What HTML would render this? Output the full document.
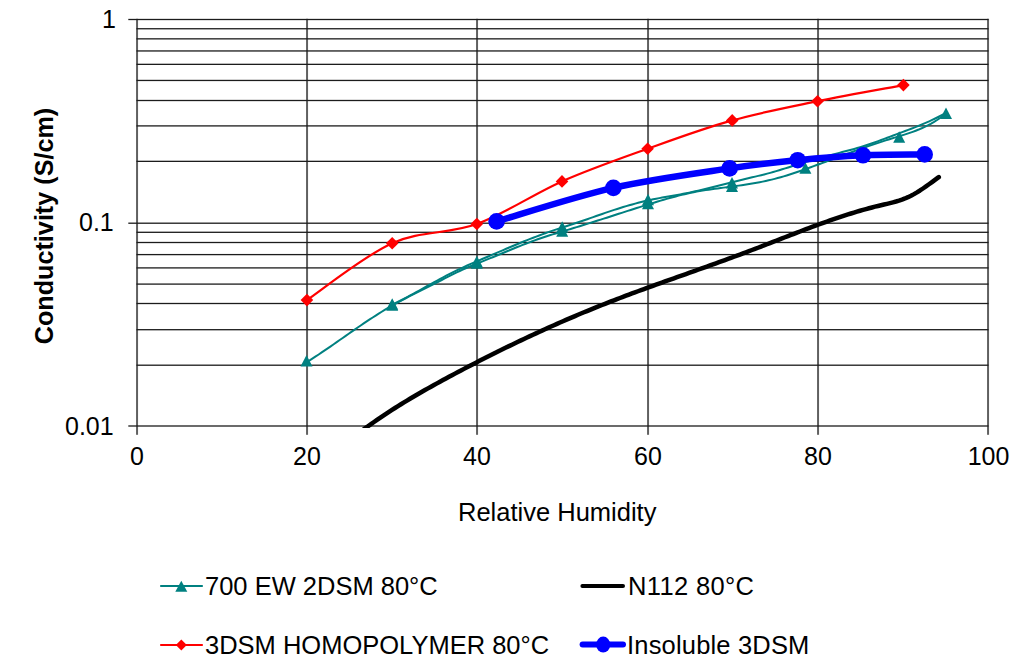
<!DOCTYPE html>
<html><head><meta charset="utf-8"><style>
html,body{margin:0;padding:0;background:#fff;}
body{width:1024px;height:670px;position:relative;overflow:hidden;font-family:"Liberation Sans",sans-serif;color:#000;}
.t{position:absolute;font-size:25px;line-height:1;white-space:nowrap;}
.c{width:100px;text-align:center;}
svg{position:absolute;left:0;top:0;}
</style></head><body>
<svg width="1024" height="670" viewBox="0 0 1024 670">
<defs><clipPath id="pa"><rect x="137" y="0" width="852" height="428"/></clipPath></defs>
<g>
<rect x="136.05" y="18.8" width="2" height="416" fill="#606060"/>
<rect x="306.05" y="18.8" width="2" height="416" fill="#606060"/>
<rect x="476.05" y="18.8" width="2" height="416" fill="#606060"/>
<rect x="647.05" y="18.8" width="2" height="416" fill="#606060"/>
<rect x="817.05" y="18.8" width="2" height="416" fill="#606060"/>
<rect x="987.05" y="18.8" width="2" height="416" fill="#606060"/>
<rect x="128.3" y="18.85" width="860.2" height="1.3" fill="#1c1c1c"/>
<rect x="136.5" y="28.10" width="852.0" height="1.3" fill="#1c1c1c"/>
<rect x="136.5" y="38.20" width="852.0" height="1.3" fill="#1c1c1c"/>
<rect x="136.5" y="50.30" width="852.0" height="1.3" fill="#1c1c1c"/>
<rect x="136.5" y="63.70" width="852.0" height="1.3" fill="#1c1c1c"/>
<rect x="136.5" y="79.80" width="852.0" height="1.3" fill="#1c1c1c"/>
<rect x="136.5" y="99.85" width="852.0" height="1.3" fill="#1c1c1c"/>
<rect x="136.5" y="125.25" width="852.0" height="1.3" fill="#1c1c1c"/>
<rect x="136.5" y="160.70" width="852.0" height="1.3" fill="#1c1c1c"/>
<rect x="128.3" y="222.55" width="860.2" height="1.3" fill="#1c1c1c"/>
<rect x="136.5" y="231.65" width="852.0" height="1.3" fill="#1c1c1c"/>
<rect x="136.5" y="241.85" width="852.0" height="1.3" fill="#1c1c1c"/>
<rect x="136.5" y="253.95" width="852.0" height="1.3" fill="#1c1c1c"/>
<rect x="136.5" y="267.25" width="852.0" height="1.3" fill="#1c1c1c"/>
<rect x="136.5" y="283.45" width="852.0" height="1.3" fill="#1c1c1c"/>
<rect x="136.5" y="302.85" width="852.0" height="1.3" fill="#1c1c1c"/>
<rect x="136.5" y="329.05" width="852.0" height="1.3" fill="#1c1c1c"/>
<rect x="136.5" y="364.55" width="852.0" height="1.3" fill="#1c1c1c"/>
<rect x="128.3" y="425.35" width="860.2" height="1.3" fill="#1c1c1c"/>
</g>
<g clip-path="url(#pa)">
<path d="M362.0,430.65 L365.0,428.43 L368.0,426.25 L371.0,424.10 L374.0,421.98 L377.0,419.90 L380.0,417.84 L383.0,415.82 L386.0,413.82 L389.0,411.85 L392.0,409.91 L395.0,407.99 L398.0,406.10 L401.0,404.24 L404.0,402.39 L407.0,400.57 L410.0,398.77 L413.0,396.99 L416.0,395.23 L419.0,393.48 L422.0,391.76 L425.0,390.05 L428.0,388.35 L431.0,386.67 L434.0,385.00 L437.0,383.35 L440.0,381.71 L443.0,380.07 L446.0,378.45 L449.0,376.84 L452.0,375.23 L455.0,373.63 L458.0,372.04 L461.0,370.45 L464.0,368.87 L467.0,367.30 L470.0,365.74 L473.0,364.19 L476.0,362.64 L479.0,361.10 L482.0,359.57 L485.0,358.04 L488.0,356.53 L491.0,355.02 L494.0,353.51 L497.0,352.02 L500.0,350.54 L503.0,349.06 L506.0,347.59 L509.0,346.13 L512.0,344.67 L515.0,343.23 L518.0,341.79 L521.0,340.36 L524.0,338.94 L527.0,337.53 L530.0,336.12 L533.0,334.73 L536.0,333.34 L539.0,331.96 L542.0,330.59 L545.0,329.22 L548.0,327.87 L551.0,326.52 L554.0,325.19 L557.0,323.86 L560.0,322.54 L563.0,321.23 L566.0,319.92 L569.0,318.63 L572.0,317.35 L575.0,316.07 L578.0,314.80 L581.0,313.54 L584.0,312.29 L587.0,311.05 L590.0,309.82 L593.0,308.60 L596.0,307.39 L599.0,306.18 L602.0,304.99 L605.0,303.80 L608.0,302.62 L611.0,301.46 L614.0,300.29 L617.0,299.14 L620.0,298.00 L623.0,296.86 L626.0,295.72 L629.0,294.60 L632.0,293.48 L635.0,292.37 L638.0,291.26 L641.0,290.15 L644.0,289.06 L647.0,287.96 L650.0,286.87 L653.0,285.79 L656.0,284.70 L659.0,283.63 L662.0,282.55 L665.0,281.48 L668.0,280.40 L671.0,279.34 L674.0,278.27 L677.0,277.20 L680.0,276.14 L683.0,275.07 L686.0,274.01 L689.0,272.94 L692.0,271.88 L695.0,270.81 L698.0,269.75 L701.0,268.68 L704.0,267.61 L707.0,266.54 L710.0,265.46 L713.0,264.39 L716.0,263.31 L719.0,262.23 L722.0,261.14 L725.0,260.05 L728.0,258.96 L731.0,257.86 L734.0,256.76 L737.0,255.65 L740.0,254.54 L743.0,253.42 L746.0,252.29 L749.0,251.16 L752.0,250.02 L755.0,248.88 L758.0,247.73 L761.0,246.58 L764.0,245.42 L767.0,244.26 L770.0,243.09 L773.0,241.92 L776.0,240.76 L779.0,239.59 L782.0,238.42 L785.0,237.26 L788.0,236.09 L791.0,234.93 L794.0,233.78 L797.0,232.62 L800.0,231.48 L803.0,230.34 L806.0,229.20 L809.0,228.07 L812.0,226.95 L815.0,225.84 L818.0,224.74 L821.0,223.65 L824.0,222.57 L827.0,221.51 L830.0,220.45 L833.0,219.41 L836.0,218.39 L839.0,217.38 L842.0,216.38 L845.0,215.40 L848.0,214.44 L851.0,213.50 L854.0,212.57 L857.0,211.67 L860.0,210.78 L863.0,209.92 L866.0,209.08 L869.0,208.26 L872.0,207.46 L875.0,206.69 L878.0,205.95 L881.0,205.23 L884.0,204.52 L887.0,203.82 L890.0,203.10 L893.0,202.33 L896.0,201.51 L899.0,200.60 L902.0,199.59 L905.0,198.45 L908.0,197.18 L911.0,195.74 L914.0,194.13 L917.0,192.37 L920.0,190.49 L923.0,188.50 L926.0,186.42 L929.0,184.28 L932.0,182.10 L935.0,179.89 L938.0,177.68 L938.8,177.10" fill="none" stroke="#000" stroke-width="4.5" stroke-linecap="round" stroke-linejoin="round"/>
<path d="M392.2,304.61 L395.2,303.20 L398.2,301.75 L401.2,300.24 L404.2,298.69 L407.2,297.11 L410.2,295.49 L413.2,293.85 L416.2,292.19 L419.2,290.51 L422.2,288.83 L425.2,287.15 L428.2,285.47 L431.2,283.80 L434.2,282.15 L437.2,280.52 L440.2,278.90 L443.2,277.31 L446.2,275.73 L449.2,274.19 L452.2,272.66 L455.2,271.17 L458.2,269.71 L461.2,268.28 L464.2,266.88 L467.2,265.51 L470.2,264.18 L473.2,262.87 L476.2,261.58 L479.2,260.30 L482.2,259.03 L485.2,257.75 L488.2,256.47 L491.2,255.19 L494.2,253.90 L497.2,252.62 L500.2,251.33 L503.2,250.05 L506.2,248.78 L509.2,247.51 L512.2,246.24 L515.2,244.99 L518.2,243.75 L521.2,242.51 L524.2,241.29 L527.2,240.09 L530.2,238.90 L533.2,237.73 L536.2,236.58 L539.2,235.45 L542.2,234.34 L545.2,233.25 L548.2,232.18 L551.2,231.14 L554.2,230.11 L557.2,229.10 L560.2,228.11 L563.2,227.14 L566.2,226.19 L569.2,225.24 L572.2,224.28 L575.2,223.31 L578.2,222.32 L581.2,221.30 L584.2,220.27 L587.2,219.23 L590.2,218.17 L593.2,217.12 L596.2,216.06 L599.2,215.00 L602.2,213.96 L605.2,212.92 L608.2,211.90 L611.2,210.89 L614.2,209.91 L617.2,208.94 L620.2,207.99 L623.2,207.07 L626.2,206.16 L629.2,205.28 L632.2,204.43 L635.2,203.61 L638.2,202.81 L641.2,202.05 L644.2,201.31 L647.2,200.61 L650.2,199.94 L653.2,199.31 L656.2,198.70 L659.2,198.13 L662.2,197.59 L665.2,197.06 L668.2,196.53 L671.2,196.01 L674.2,195.49 L677.2,194.95 L680.2,194.40 L683.2,193.82 L686.2,193.23 L689.2,192.63 L692.2,192.00 L695.2,191.35 L698.2,190.68 L701.2,189.99 L704.2,189.29 L707.2,188.57 L710.2,187.84 L713.2,187.09 L716.2,186.34 L719.2,185.58 L722.2,184.82 L725.2,184.05 L728.2,183.28 L731.2,182.52 L734.2,181.75 L737.2,180.99 L740.2,180.24 L743.2,179.50 L746.2,178.77 L749.2,178.05 L752.2,177.34 L755.2,176.62 L758.2,175.90 L761.2,175.17 L764.2,174.42 L767.2,173.65 L770.2,172.85 L773.2,172.02 L776.2,171.16 L779.2,170.26 L782.2,169.33 L785.2,168.38 L788.2,167.43 L791.2,166.48 L794.2,165.54 L797.2,164.62 L800.2,163.70 L803.2,162.80 L806.2,161.90 L809.2,161.02 L812.2,160.15 L815.2,159.29 L818.2,158.44 L821.2,157.61 L824.2,156.78 L827.2,155.97 L830.2,155.18 L833.2,154.40 L836.2,153.62 L839.2,152.86 L842.2,152.09 L845.2,151.32 L848.2,150.54 L851.2,149.75 L854.2,148.93 L857.2,148.08 L860.2,147.20 L863.2,146.28 L866.2,145.32 L869.2,144.31 L872.2,143.27 L875.2,142.19 L878.2,141.10 L881.2,139.98 L884.2,138.85 L887.2,137.73 L890.2,136.60 L893.2,135.49 L896.2,134.38 L899.2,133.27 L902.2,132.17 L905.2,131.05 L908.2,129.92 L911.2,128.78 L914.2,127.61 L917.2,126.42 L920.2,125.20 L923.2,123.95 L926.2,122.65 L929.2,121.32 L932.2,119.94 L935.2,118.50 L938.2,117.01 L941.2,115.46 L944.2,113.84 L946.0,112.83" fill="none" stroke="#008080" stroke-width="2" stroke-linejoin="round"/>
<path d="M306.7,362.25 L309.7,360.35 L312.7,358.42 L315.7,356.45 L318.7,354.47 L321.7,352.45 L324.7,350.42 L327.7,348.37 L330.7,346.31 L333.7,344.23 L336.7,342.14 L339.7,340.05 L342.7,337.96 L345.7,335.86 L348.7,333.77 L351.7,331.68 L354.7,329.60 L357.7,327.54 L360.7,325.49 L363.7,323.45 L366.7,321.43 L369.7,319.44 L372.7,317.47 L375.7,315.54 L378.7,313.63 L381.7,311.76 L384.7,309.93 L387.7,308.13 L390.7,306.38 L393.7,304.68 L396.7,303.02 L399.7,301.40 L402.7,299.81 L405.7,298.25 L408.7,296.72 L411.7,295.21 L414.7,293.71 L417.7,292.21 L420.7,290.72 L423.7,289.22 L426.7,287.72 L429.7,286.20 L432.7,284.67 L435.7,283.12 L438.7,281.57 L441.7,280.01 L444.7,278.46 L447.7,276.91 L450.7,275.39 L453.7,273.89 L456.7,272.42 L459.7,270.99 L462.7,269.60 L465.7,268.25 L468.7,266.96 L471.7,265.71 L474.7,264.48 L477.7,263.28 L480.7,262.08 L483.7,260.88 L486.7,259.67 L489.7,258.44 L492.7,257.21 L495.7,255.97 L498.7,254.72 L501.7,253.47 L504.7,252.23 L507.7,250.98 L510.7,249.75 L513.7,248.52 L516.7,247.30 L519.7,246.10 L522.7,244.91 L525.7,243.74 L528.7,242.59 L531.7,241.47 L534.7,240.37 L537.7,239.30 L540.7,238.26 L543.7,237.25 L546.7,236.27 L549.7,235.31 L552.7,234.37 L555.7,233.45 L558.7,232.53 L561.7,231.63 L564.7,230.73 L567.7,229.84 L570.7,228.94 L573.7,228.04 L576.7,227.13 L579.7,226.22 L582.7,225.29 L585.7,224.36 L588.7,223.42 L591.7,222.47 L594.7,221.52 L597.7,220.57 L600.7,219.61 L603.7,218.64 L606.7,217.68 L609.7,216.71 L612.7,215.74 L615.7,214.77 L618.7,213.80 L621.7,212.83 L624.7,211.87 L627.7,210.90 L630.7,209.94 L633.7,208.98 L636.7,208.03 L639.7,207.08 L642.7,206.14 L645.7,205.20 L648.7,204.27 L651.7,203.35 L654.7,202.43 L657.7,201.53 L660.7,200.64 L663.7,199.76 L666.7,198.89 L669.7,198.05 L672.7,197.22 L675.7,196.42 L678.7,195.65 L681.7,194.90 L684.7,194.18 L687.7,193.49 L690.7,192.84 L693.7,192.22 L696.7,191.64 L699.7,191.10 L702.7,190.59 L705.7,190.11 L708.7,189.66 L711.7,189.23 L714.7,188.81 L717.7,188.40 L720.7,188.01 L723.7,187.62 L726.7,187.22 L729.7,186.83 L732.7,186.44 L735.7,186.03 L738.7,185.62 L741.7,185.19 L744.7,184.75 L747.7,184.29 L750.7,183.81 L753.7,183.30 L756.7,182.77 L759.7,182.21 L762.7,181.62 L765.7,180.99 L768.7,180.32 L771.7,179.62 L774.7,178.87 L777.7,178.07 L780.7,177.23 L783.7,176.35 L786.7,175.44 L789.7,174.49 L792.7,173.51 L795.7,172.51 L798.7,171.48 L801.7,170.44 L804.7,169.39 L807.7,168.32 L810.7,167.24 L813.7,166.16 L816.7,165.06 L819.7,163.96 L822.7,162.86 L825.7,161.75 L828.7,160.64 L831.7,159.52 L834.7,158.41 L837.7,157.29 L840.7,156.18 L843.7,155.07 L846.7,153.96 L849.7,152.86 L852.7,151.76 L855.7,150.68 L858.7,149.59 L861.7,148.52 L864.7,147.46 L867.7,146.41 L870.7,145.37 L873.7,144.34 L876.7,143.33 L879.7,142.34 L882.7,141.36 L885.7,140.40 L888.7,139.46 L891.7,138.54 L894.7,137.63 L897.7,136.72 L900.7,135.81 L903.7,134.88 L906.7,133.92 L909.7,132.92 L912.7,131.86 L915.7,130.74 L918.7,129.55 L921.7,128.28 L924.7,126.90 L927.7,125.43 L930.7,123.83 L933.7,122.10 L936.7,120.23 L939.7,118.22 L942.7,116.06 L945.7,113.92 L946.0,113.71" fill="none" stroke="#008080" stroke-width="2" stroke-linejoin="round"/>
<path d="M306.5,355.1 L312.5,366.6 L300.5,366.6 Z" fill="#008080"/>
<path d="M392.2,298.2 L398.2,309.8 L386.2,309.8 Z" fill="#008080"/>
<path d="M392.2,299.2 L398.2,310.8 L386.2,310.8 Z" fill="#008080"/>
<path d="M476.8,255.8 L482.8,267.2 L470.8,267.2 Z" fill="#008080"/>
<path d="M476.8,257.2 L482.8,268.8 L470.8,268.8 Z" fill="#008080"/>
<path d="M562.2,221.2 L568.2,232.8 L556.2,232.8 Z" fill="#008080"/>
<path d="M562.2,225.2 L568.2,236.8 L556.2,236.8 Z" fill="#008080"/>
<path d="M648.0,193.8 L654.0,205.2 L642.0,205.2 Z" fill="#008080"/>
<path d="M648.0,197.8 L654.0,209.2 L642.0,209.2 Z" fill="#008080"/>
<path d="M732.0,177.0 L738.0,188.5 L726.0,188.5 Z" fill="#008080"/>
<path d="M732.0,180.5 L738.0,192.0 L726.0,192.0 Z" fill="#008080"/>
<path d="M805.4,162.3 L811.4,173.8 L799.4,173.8 Z" fill="#008080"/>
<path d="M899.2,131.2 L905.2,142.7 L893.2,142.7 Z" fill="#008080"/>
<path d="M946.0,107.5 L952.0,119.0 L940.0,119.0 Z" fill="#008080"/>
<path d="M306.9,300.1 C321.1,290.6 363.9,255.9 392.2,243.2 C420.5,230.5 448.5,234.3 476.8,224.0 C505.1,213.7 533.5,193.9 562.0,181.4 C590.5,168.9 619.2,159.0 647.6,148.8 C676.0,138.6 703.9,128.3 732.2,120.4 C760.5,112.5 789.0,107.1 817.5,101.2 C846.0,95.3 889.1,87.8 903.4,85.1" fill="none" stroke="#ff0000" stroke-width="2.2"/>
<path d="M306.9,293.8 L313.2,300.1 L306.9,306.4 L300.6,300.1 Z" fill="#ff0000"/>
<path d="M392.2,236.9 L398.5,243.2 L392.2,249.5 L385.9,243.2 Z" fill="#ff0000"/>
<path d="M476.8,217.7 L483.1,224.0 L476.8,230.3 L470.5,224.0 Z" fill="#ff0000"/>
<path d="M562.0,175.1 L568.3,181.4 L562.0,187.7 L555.7,181.4 Z" fill="#ff0000"/>
<path d="M647.6,142.5 L653.9,148.8 L647.6,155.1 L641.3,148.8 Z" fill="#ff0000"/>
<path d="M732.2,114.1 L738.5,120.4 L732.2,126.7 L725.9,120.4 Z" fill="#ff0000"/>
<path d="M817.5,94.9 L823.8,101.2 L817.5,107.5 L811.2,101.2 Z" fill="#ff0000"/>
<path d="M903.4,78.8 L909.7,85.1 L903.4,91.4 L897.1,85.1 Z" fill="#ff0000"/>
<path d="M496.6,221.4 C516.1,215.8 574.6,196.7 613.4,187.9 C652.2,179.1 698.9,173.0 729.6,168.4 C760.3,163.8 775.5,162.4 797.7,160.2 C819.9,158.0 841.8,156.3 863.0,155.3 C884.2,154.3 914.4,154.6 924.7,154.4" fill="none" stroke="#0000ff" stroke-width="6.5"/>
<circle cx="496.6" cy="221.4" r="8.3" fill="#0000ff"/>
<circle cx="613.4" cy="187.9" r="8.3" fill="#0000ff"/>
<circle cx="729.6" cy="168.4" r="8.3" fill="#0000ff"/>
<circle cx="797.7" cy="160.2" r="8.3" fill="#0000ff"/>
<circle cx="863" cy="155.3" r="8.3" fill="#0000ff"/>
<circle cx="924.7" cy="154.4" r="8.3" fill="#0000ff"/>
</g>
<line x1="161" y1="586" x2="202" y2="586" stroke="#008080" stroke-width="2.2" stroke-linecap="round"/>
<path d="M181.3,580.8 L187.3,591.8 L175.3,591.8 Z" fill="#008080"/>
<line x1="582.4" y1="586" x2="623" y2="586" stroke="#000" stroke-width="4" stroke-linecap="round"/>
<line x1="161" y1="645" x2="202" y2="645" stroke="#ff0000" stroke-width="2.2" stroke-linecap="round"/>
<path d="M181.3,639.5 L186.8,645.0 L181.3,650.5 L175.8,645.0 Z" fill="#ff0000"/>
<line x1="582.6" y1="644.6" x2="623" y2="644.6" stroke="#0000ff" stroke-width="6" stroke-linecap="round"/>
<ellipse cx="603.2" cy="644.6" rx="7" ry="8" fill="#0000ff"/>
</svg>
<div class="t" style="left:102px;top:7px">1</div>
<div class="t" style="left:79px;top:210px">0.1</div>
<div class="t" style="left:65px;top:413.5px">0.01</div>
<div class="t c" style="left:87px;top:444px">0</div>
<div class="t c" style="left:257px;top:444px">20</div>
<div class="t c" style="left:427px;top:444px">40</div>
<div class="t c" style="left:598px;top:444px">60</div>
<div class="t c" style="left:768px;top:444px">80</div>
<div class="t c" style="left:938.5px;top:444px">100</div>
<div class="t" style="left:458px;top:500px;font-size:25.5px">Relative Humidity</div>
<div class="t" style="left:205px;top:573.5px;font-size:25.5px">700 EW 2DSM 80°C</div>
<div class="t" style="left:628px;top:573.5px;font-size:25.5px;letter-spacing:0.35px">N112 80°C</div>
<div class="t" style="left:205px;top:632.5px;font-size:25.5px">3DSM HOMOPOLYMER 80°C</div>
<div class="t" style="left:627px;top:632.5px;font-size:25.5px;letter-spacing:0.18px">Insoluble 3DSM</div>
<div class="t" style="left:44.5px;top:225.8px;font-size:25.2px;font-weight:bold;transform:translate(-50%,-50%) rotate(-90deg);transform-origin:center">Conductivity (S/cm)</div>
</body></html>
